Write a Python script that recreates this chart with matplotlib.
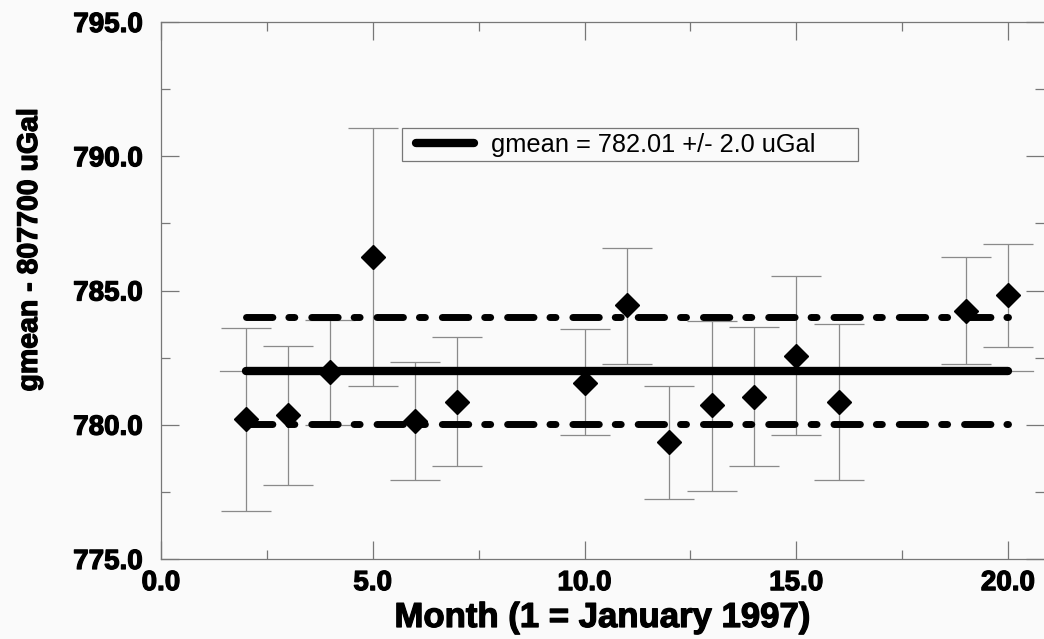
import numpy as np
import matplotlib
matplotlib.use("Agg")
import matplotlib.pyplot as plt
import matplotlib.patheffects as pe
from matplotlib.patches import Rectangle

# monthly gravity means (gmean - 807700 uGal)
months = [2, 3, 4, 5, 6, 7, 10, 11, 12, 13, 14, 15, 16, 19, 20]
gmean_vals = [780.2, 780.35, 781.95, 786.25, 780.15, 780.85, 781.55, 784.45,
              779.35, 780.75, 781.05, 782.55, 780.85, 784.25, 784.85]
err_hi = [783.6, 782.95, 783.9, 791.05, 782.35, 783.25, 783.55, 786.6,
          781.45, 783.85, 783.65, 785.55, 783.75, 786.25, 786.75]
err_lo = [776.8, 777.75, 780.0, 781.45, 777.95, 778.45, 779.6, 782.25,
          777.25, 777.55, 778.45, 779.6, 777.95, 782.25, 782.9]

mean_value = 782.01
mean_sigma = 2.0

plt.rcParams['font.family'] = ['Liberation Sans', 'DejaVu Sans']
plt.rcParams['lines.scale_dashes'] = False

W, H = 1044, 639
fig = plt.figure(figsize=(W / 100, H / 100), dpi=100, facecolor='#fafafa')
ax = fig.add_axes([161 / W, 80 / H, 883 / W, 537 / H])
ax.set_facecolor('#fafafa')

x = np.array(months, dtype=float)
y = np.array(gmean_vals)
yerr = [y - np.array(err_lo), np.array(err_hi) - y]

# error bars (thin grey with wide caps)
ax.errorbar(x, y, yerr=yerr, fmt='none', ecolor='#8a8a8a', elinewidth=0.9,
            capsize=18, capthick=0.9, zorder=2)

# thin grey reference at the mean
ax.plot([x[0] - 0.6, x[-1] + 0.6], [mean_value, mean_value],
        color='#8a8a8a', lw=0.9, zorder=2)

# mean and +/- sigma lines
ax.plot([x[0], x[-1]], [mean_value, mean_value], color='black', lw=6,
        solid_capstyle='round', zorder=3,
        label='gmean = %.2f +/- %.1f uGal' % (mean_value, mean_sigma))
dash = (0, (19, 11.5, 4.3, 12.2))
for yy in (mean_value - mean_sigma, mean_value + mean_sigma):
    ax.plot([x[0], x[-1]], [yy, yy], color='black', lw=5, linestyle=dash,
            dash_capstyle='round', zorder=3)

# diamonds
ax.plot(x, y, linestyle='none', marker='D', markersize=12.5,
        color='black', zorder=4)

ax.set_xlim(0, 20.85)
ax.set_ylim(775, 795)
ax.set_xticks([0, 5, 10, 15, 20])
ax.set_xticks([2.5, 7.5, 12.5, 17.5], minor=True)
ax.set_yticks([775, 780, 785, 790, 795])
ax.set_yticks([777.5, 782.5, 787.5, 792.5], minor=True)
ax.xaxis.set_major_formatter(matplotlib.ticker.FormatStrFormatter('%.1f'))
ax.yaxis.set_major_formatter(matplotlib.ticker.FormatStrFormatter('%.1f'))

ax.tick_params(which='both', direction='in', top=True, right=True,
               color='#777777', width=0.9)
ax.tick_params(which='major', length=13)
ax.tick_params(which='minor', length=6.5)
ax.tick_params(axis='y', which='major', pad=13, labelsize=20)
ax.tick_params(axis='x', which='major', pad=8, labelsize=20)
heavy = [pe.withStroke(linewidth=0.9, foreground='black')]
for lab in ax.get_xticklabels() + ax.get_yticklabels():
    lab.set_fontweight('bold')
    lab.set_path_effects(heavy)

for side in ('left', 'bottom', 'top'):
    ax.spines[side].set_color('#777777')
    ax.spines[side].set_linewidth(0.9)
ax.spines['right'].set_visible(False)

xl = ax.set_xlabel('Month (1 = January 1997)', fontsize=25, fontweight='bold')
xl.set_path_effects(heavy)
ax.xaxis.set_label_coords(0.5, -(627 - 559) / 537)
xl.set_va('baseline')
yl = ax.set_ylabel('gmean - 807700 uGal', fontsize=20.5, fontweight='bold')
yl.set_path_effects(heavy)
ax.yaxis.set_label_coords((43 - 161) / 883, (559 - 250) / 537)

# legend box drawn by hand, legend itself frameless
box = Rectangle((402 / W, (H - 161) / H), 456 / W, 33 / H,
                transform=fig.transFigure, facecolor='#fafafa',
                edgecolor='#777777', lw=0.9, zorder=5)
ax.add_patch(box)
box.set_clip_on(False)
leg = ax.legend(loc='center left', bbox_to_anchor=(416 / W, (H - 145) / H),
                bbox_transform=fig.transFigure, fontsize=18.3, frameon=False,
                handlelength=2.28, handletextpad=0.68, borderpad=0,
                borderaxespad=0)
leg.set_zorder(6)

fig.savefig('out.png', dpi=100, facecolor=fig.get_facecolor())
